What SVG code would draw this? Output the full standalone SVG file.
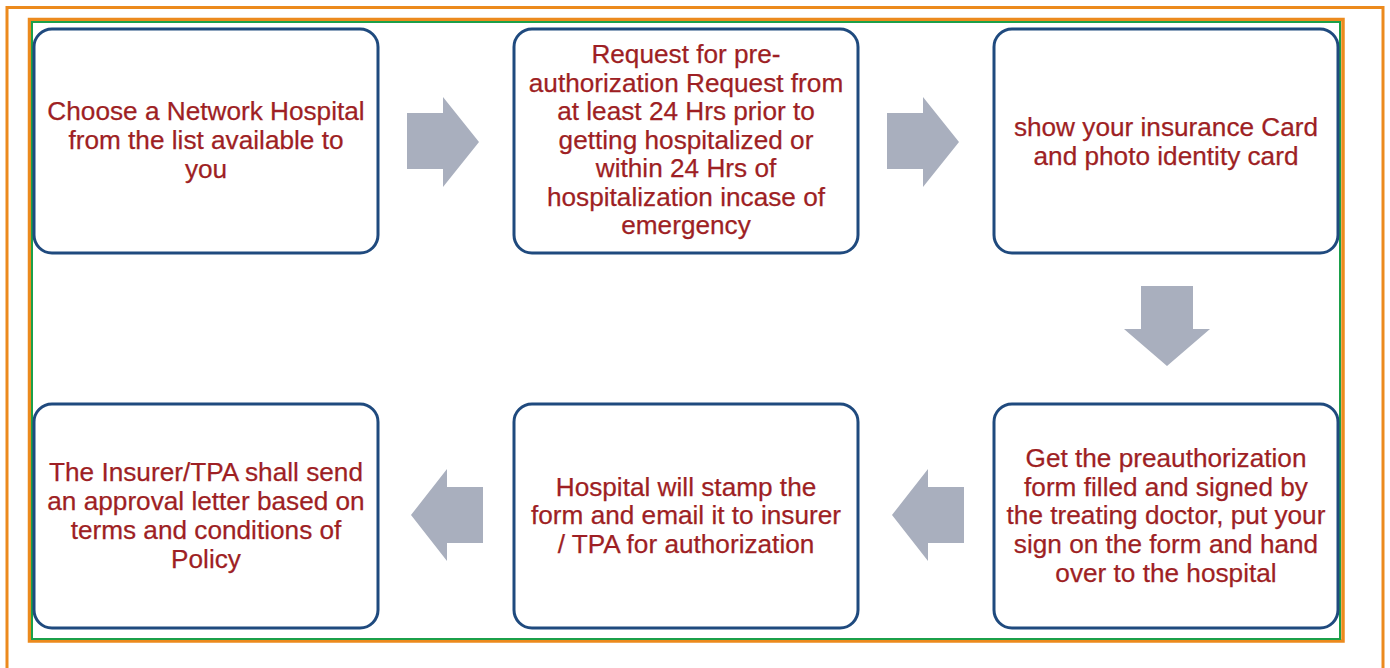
<svg xmlns="http://www.w3.org/2000/svg" width="1390" height="668" viewBox="0 0 1390 668">
<style>
.frame{fill:none;stroke:#EC8A1D}
.box{fill:#ffffff;stroke:#1F4A7E;stroke-width:3}
.arr{fill:#A9AFBE}
.t{font-family:"Liberation Sans",Arial,sans-serif;font-size:26.2px;fill:#9E1F24;text-anchor:middle;stroke:#9E1F24;stroke-width:0.25}
</style>
<rect width="1390" height="668" fill="#ffffff"/>
<rect class="frame" x="7" y="7.5" width="1376" height="680" stroke-width="3"/>
<rect class="frame" x="29.5" y="19.5" width="1313.5" height="621.5" stroke-width="3.5"/>
<rect x="32" y="22" width="1308" height="617" fill="none" stroke="#1BA04A" stroke-width="2"/>
<g id="connectors">
<polygon class="arr" points="407,113 443,113 443,97 479,142 443,187 443,169 407,169"/>
<polygon class="arr" points="887,113 923,113 923,97 959,142 923,187 923,169 887,169"/>
<polygon class="arr" points="1141,286 1193,286 1193,329 1210,329 1167,366 1124,329 1141,329"/>
<polygon class="arr" points="892,515 928,469 928,487 964,487 964,543 928,543 928,561"/>
<polygon class="arr" points="411,515 447,469 447,487 483,487 483,543 447,543 447,561"/>
</g>
<g id="node1">
<rect class="box" x="34" y="29" width="344" height="224" rx="18"/>
<text class="t"><tspan x="206" y="120">Choose a Network Hospital</tspan><tspan x="206" y="149">from the list available to</tspan><tspan x="206" y="178">you</tspan></text>
</g>
<g id="node2">
<rect class="box" x="514" y="29" width="344" height="224" rx="18"/>
<text class="t"><tspan x="686" y="63">Request for pre-</tspan><tspan x="686" y="91.5">authorization Request from</tspan><tspan x="686" y="120">at least 24 Hrs prior to</tspan><tspan x="686" y="148.5">getting hospitalized or</tspan><tspan x="686" y="177">within 24 Hrs of</tspan><tspan x="686" y="205.5">hospitalization incase of</tspan><tspan x="686" y="234">emergency</tspan></text>
</g>
<g id="node3">
<rect class="box" x="994" y="29" width="344" height="224" rx="18"/>
<text class="t"><tspan x="1166" y="136">show your insurance Card</tspan><tspan x="1166" y="164.5">and photo identity card</tspan></text>
</g>
<g id="node4">
<rect class="box" x="994" y="404" width="344" height="224" rx="18"/>
<text class="t"><tspan x="1166" y="466.5">Get the preauthorization</tspan><tspan x="1166" y="495.5">form filled and signed by</tspan><tspan x="1166" y="524">the treating doctor, put your</tspan><tspan x="1166" y="553">sign on the form and hand</tspan><tspan x="1166" y="582">over to the hospital</tspan></text>
</g>
<g id="node5">
<rect class="box" x="514" y="404" width="344" height="224" rx="18"/>
<text class="t"><tspan x="686" y="495.5">Hospital will stamp the</tspan><tspan x="686" y="524">form and email it to insurer</tspan><tspan x="686" y="553">/ TPA for authorization</tspan></text>
</g>
<g id="node6">
<rect class="box" x="34" y="404" width="344" height="224" rx="18"/>
<text class="t"><tspan x="206" y="480.5">The Insurer/TPA shall send</tspan><tspan x="206" y="509.5">an approval letter based on</tspan><tspan x="206" y="538.5">terms and conditions of</tspan><tspan x="206" y="567.5">Policy</tspan></text>
</g>
</svg>
